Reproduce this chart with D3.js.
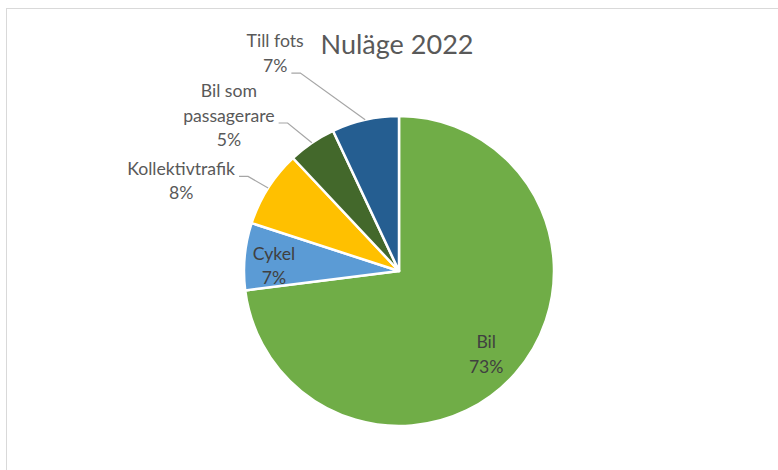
<!DOCTYPE html>
<html><head><meta charset="utf-8">
<script src="https://cdn.jsdelivr.net/npm/d3@7"></script>
<style>html,body{margin:0;padding:0;background:#fff;overflow:hidden}svg{display:block}</style>
</head><body>
<svg id="c" width="778" height="470"></svg>
<script>
const title = "Nuläge 2022";
const categories = ["Bil", "Cykel", "Kollektivtrafik", "Bil som passagerare", "Till fots"];
const values = [73, 7, 8, 5, 7];
const labelLines = [["Bil"], ["Cykel"], ["Kollektivtrafik"], ["Bil som", "passagerare"], ["Till fots"]];
const colors = ["#70AD47", "#5B9BD5", "#FFC000", "#43682B", "#255E91"];

const svg = d3.select("#c");
const cx = 399, cy = 271, R = 155;
const FONT = "Lato, 'Open Sans', 'DejaVu Sans', sans-serif";

// chart border
svg.append("rect").attr("x", 6.5).attr("y", 8.5).attr("width", 900).attr("height", 600)
  .attr("fill", "#fff").attr("stroke", "#d9d9d9").attr("stroke-width", 1);

// fit font sizes to measured widths
function fitSize(text, target) {
  const t = svg.append("text").attr("font-family", FONT).attr("font-size", 100).text(text);
  const w = t.node().getComputedTextLength(); t.remove();
  return 100 * target / w;
}
const titleSize = fitSize(title, 153);
const labelSize = fitSize("Kollektivtrafik", 108);
const lineH = 24.5;

svg.append("text").attr("x", 397).attr("y", 53.5).attr("text-anchor", "middle")
  .attr("font-family", FONT).attr("font-size", titleSize).attr("fill", "#595959").text(title);

const data = categories.map((c, i) => ({ cat: c, value: values[i], lines: labelLines[i], color: colors[i] }));
const pie = d3.pie().value(d => d.value).sort(null);
const arcs = pie(data);
const arc = d3.arc().innerRadius(0).outerRadius(R);

const g = svg.append("g").attr("transform", `translate(${cx},${cy})`);
g.selectAll("path").data(arcs).join("path")
  .attr("d", arc).attr("fill", d => d.data.color)
  .attr("stroke", "#fff").attr("stroke-width", 2.5).attr("stroke-linejoin", "round");

const pct = v => Math.round(v / d3.sum(values) * 100) + "%";

// layout for labels: inside (radius fraction) or outside (offset from edge point)
const layout = {
  "Bil": { inside: 0.75 },
  "Cykel": { inside: 0.81 },
  "Kollektivtrafik": { dx: -87, dy: -13, lead: 0 },
  "Bil som passagerare": { dx: -83, dy: -45.8, lead: 1 },
  "Till fots": { dx: -90, dy: -72.7, lead: 1 }
};

arcs.forEach(a => {
  const L = layout[a.data.cat];
  const mid = (a.startAngle + a.endAngle) / 2;
  const lines = a.data.lines.concat([pct(a.data.value)]);
  if (L.inside) {
    const r = R * L.inside;
    const px = cx + r * Math.sin(mid), py = cy - r * Math.cos(mid);
    const n = lines.length;
    const t = svg.append("text").attr("text-anchor", "middle")
      .attr("font-family", FONT).attr("font-size", labelSize).attr("fill", "#404040");
    lines.forEach((s, i) => {
      t.append("tspan").attr("x", px).attr("y", py + (i - (n - 1) / 2) * lineH + labelSize * 0.72).text(s);
    });
  } else {
    const ex = cx + R * Math.sin(mid), ey = cy - R * Math.cos(mid);
    const tx = ex + L.dx, by = ey + L.dy;
    const t = svg.append("text").attr("text-anchor", "middle")
      .attr("font-family", FONT).attr("font-size", labelSize).attr("fill", "#595959");
    const spans = lines.map((s, i) => t.append("tspan").attr("x", tx).attr("y", by + i * lineH).text(s));
    const lw = spans[L.lead].node().getComputedTextLength();
    const sx = tx + lw / 2 + 4, sy = by + L.lead * lineH + 1.5;
    svg.append("path")
      .attr("d", d3.line()([[sx, sy], [sx + 9, sy], [ex, ey]]))
      .attr("fill", "none").attr("stroke", "#a6a6a6").attr("stroke-width", 1.2);
  }
});
</script>
</body></html>
